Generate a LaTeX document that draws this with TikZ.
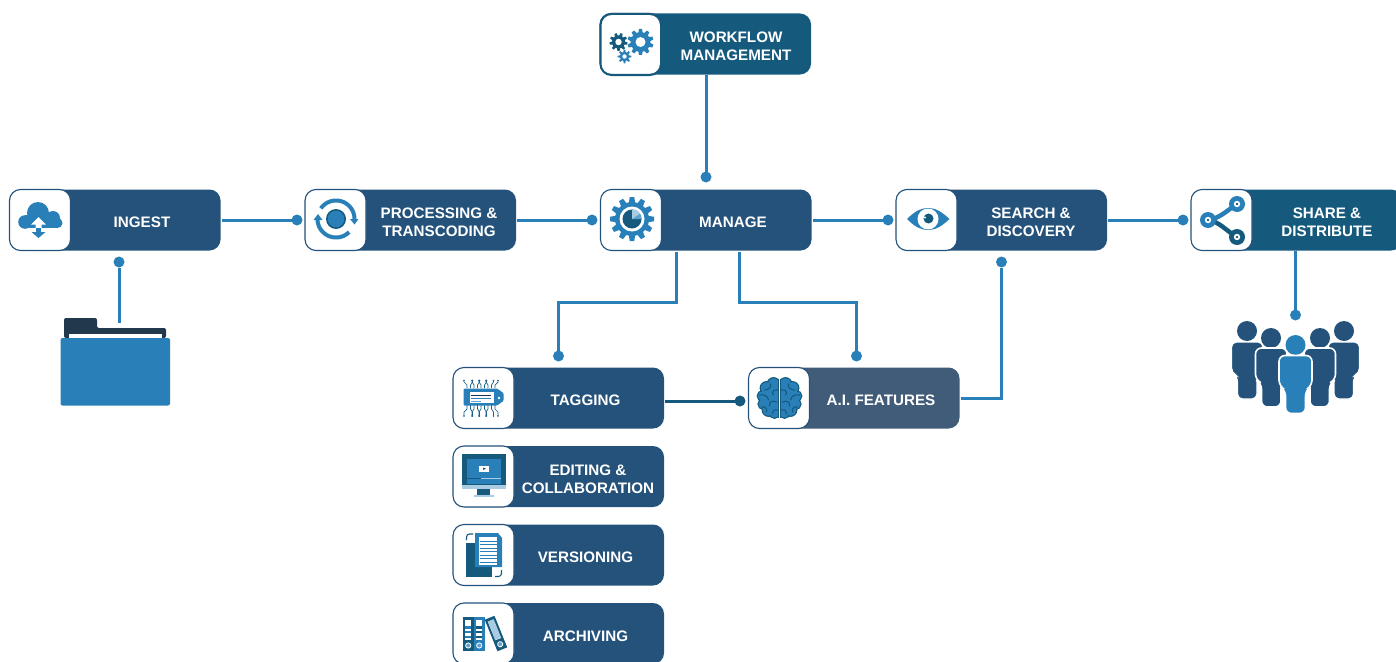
\documentclass[tikz,border=0pt]{standalone}
\usepackage{fontspec}
\setmainfont{Liberation Sans}
\definecolor{cardblue}{HTML}{24527A}
\definecolor{cardteal}{HTML}{155A7D}
\definecolor{cardslate}{HTML}{415C78}
\definecolor{linkblue}{HTML}{2980B9}
\definecolor{navy}{HTML}{22384D}
\definecolor{lightblue}{HTML}{A9CCE3}
\definecolor{midblue}{HTML}{5EA3D0}
\tikzset{
  cardbox/.style={rectangle,rounded corners=11pt,minimum width=211pt,minimum height=61pt,inner sep=0pt,outer sep=0pt},
  tilebox/.style={rectangle,rounded corners=11pt,fill=white,draw=cardblue,line width=1.1pt,minimum width=61pt,minimum height=61pt,inner sep=0pt,outer sep=0pt},
  cardtext/.style={text=white,align=center,inner sep=0pt,font=\fontsize{15.2}{18}\selectfont\bfseries},
  conn/.style={draw=linkblue,line width=3pt},
  conndark/.style={draw=cardteal,line width=3pt},
  dotend/.style={circle,fill=linkblue,minimum size=11pt,inner sep=0pt,outer sep=0pt},
  dotdark/.style={circle,fill=cardteal,minimum size=11pt,inner sep=0pt,outer sep=0pt},
}
% name, left, top, colour, text x, text
\newcommand{\card}[6]{%
  \node[cardbox,fill=#4] (#1) at ({#2+105.5},{#3+30.5}) {};
  \node[tilebox] (#1-tile) at ({#2+30.5},{#3+30.5}) {};
  \node[cardtext] (#1-text) at ({#5},{#3+33}) {#6};
}
% cx cy router rbody teeth toothhalfwidth colour hole
\newcommand{\gearicon}[8]{%
  \fill[#7] (#1,#2) circle[radius=#4];
  \foreach \gi in {1,...,#5}{
    \fill[#7,shift={(#1,#2)},rotate=\gi*360/#5] (-#6,#4-1) -- (-0.7*#6,#3) -- (0.7*#6,#3) -- (#6,#4-1) -- cycle;
  }
  \fill[white] (#1,#2) circle[radius=#8];
}
% binder: left, top, colour, label stripe colour
\newcommand{\binder}[4]{%
  \fill[#3] (#1,#2) rectangle ({#1+10.5},{#2+34});
  \fill[white] ({#1+2.2},{#2+3}) rectangle ({#1+8.3},{#2+23});
  \fill[#4] ({#1+2.2},{#2+9}) rectangle ({#1+8.3},{#2+11.5});
  \fill[#4] ({#1+2.2},{#2+13.5}) rectangle ({#1+8.3},{#2+15.5});
  \fill[#4] ({#1+2.2},{#2+18.5}) rectangle ({#1+8.3},{#2+21});
  \filldraw[fill=midblue,draw=white,line width=0.8pt] ({#1+5.2},{#2+28.5}) circle[radius=2.6];
}
\begin{document}
\begin{tikzpicture}[x=1pt,y=-1pt]
\clip (0,0) rectangle (1396,661);
\fill[white] (0,0) rectangle (1396,661);

% cards
\card{workflow}{600}{13.5}{cardteal}{736}{WORKFLOW\\MANAGEMENT}
\card{ingest}{9.5}{189.5}{cardblue}{142}{INGEST}
\card{processing}{305}{189.5}{cardblue}{439}{PROCESSING \&\\TRANSCODING}
\card{manage}{600.5}{189.5}{cardblue}{733}{MANAGE}
\card{search}{896}{189.5}{cardblue}{1031}{SEARCH \&\\DISCOVERY}
\card{share}{1191}{189.5}{cardteal}{1327}{SHARE \&\\DISTRIBUTE}
\card{tagging}{453}{367.5}{cardblue}{585.5}{TAGGING}
\card{editing}{453}{446}{cardblue}{588}{EDITING \&\\COLLABORATION}
\card{versioning}{453}{524.5}{cardblue}{585.5}{VERSIONING}
\card{archiving}{453}{603}{cardblue}{585.5}{ARCHIVING}
\card{ai}{748.5}{367.5}{cardslate}{881}{A.I. FEATURES}
\draw[cardteal,line width=2pt,rounded corners=11pt] (600.5,14) rectangle (661,75);

% connector ends
\node[dotend] (dwork) at (706,177) {};
\node[dotend] (dfolder) at (119,262) {};
\coordinate (folderend) at (119,323);
\node[dotend] (dproc) at (297,220) {};
\node[dotend] (dmanage) at (592,220) {};
\node[dotend] (dsearch) at (888,220) {};
\node[dotend] (dshare) at (1183,220) {};
\node[dotend] (dpeople) at (1295.5,315) {};
\node[dotend] (dtag) at (558.5,356) {};
\node[dotend] (dai) at (856.5,356) {};
\node[dotdark] (daileft) at (740,401) {};
\node[dotend] (dsearchb) at (1001.5,262) {};

% connectors
\draw[conn] (workflow.south -| dwork) -- (dwork);
\draw[conn] (dfolder) -- (folderend);
\draw[conn] ([xshift=1pt]ingest.east) -- (dproc);
\draw[conn] ([xshift=1pt]processing.east) -- (dmanage);
\draw[conn] ([xshift=1pt]manage.east) -- (dsearch);
\draw[conn] ([xshift=1pt]search.east) -- (dshare);
\draw[conn] (share.south -| dpeople) -- (dpeople);
\draw[conn] ([xshift=-30pt,yshift=-1pt]manage.south) -- ++(0,51) -| (dtag);
\draw[conn] ([xshift=33pt,yshift=-1pt]manage.south) -- ++(0,51) -| (dai);
\draw[conndark] ([xshift=1pt]tagging.east |- daileft) -- (daileft);
\draw[conn] ([xshift=1pt]ai.east) -| (dsearchb);

% folder
\fill[navy,rounded corners=2pt] (64,338) -- (64,318) -- (97,318) -- (97,328) -- (166,328) -- (166,338) -- cycle;
\fill[white] (69,333.5) rectangle (162,339);
\fill[linkblue,rounded corners=2pt] (60.5,338) rectangle (170,405.5);

% people
\fill[cardblue] (1247,331) circle[radius=10];
\fill[cardblue] (1344,331) circle[radius=10];
\filldraw[fill=cardblue,draw=white,line width=1.2pt,rounded corners=5pt]
  (1231.5,342) -- (1231.5,373) -- (1237.5,376) -- (1237.5,399) -- (1257,399) -- (1257,376) -- (1263,373) -- (1263,342) -- cycle;
\filldraw[fill=cardblue,draw=white,line width=1.2pt,rounded corners=5pt]
  (1328,342) -- (1328,373) -- (1334,376) -- (1334,399) -- (1353.5,399) -- (1353.5,376) -- (1359.5,373) -- (1359.5,342) -- cycle;
\fill[white] (1271,338) circle[radius=11.5];
\fill[white] (1320,338) circle[radius=11.5];
\fill[cardblue] (1271,338) circle[radius=10];
\fill[cardblue] (1320,338) circle[radius=10];
\filldraw[fill=cardblue,draw=white,line width=1.6pt,rounded corners=6pt]
  (1255.5,348) -- (1255.5,380) -- (1261.5,383) -- (1261.5,407) -- (1281,407) -- (1281,383) -- (1287,380) -- (1287,348) -- cycle;
\filldraw[fill=cardblue,draw=white,line width=1.6pt,rounded corners=6pt]
  (1304,348) -- (1304,380) -- (1310,383) -- (1310,407) -- (1329.5,407) -- (1329.5,383) -- (1335.5,380) -- (1335.5,348) -- cycle;
\fill[white] (1295.5,345) circle[radius=11.5];
\fill[linkblue] (1295.5,345) circle[radius=10];
\filldraw[fill=linkblue,draw=white,line width=1.6pt,rounded corners=6pt]
  (1279,355.5) -- (1279,386) -- (1285.5,390) -- (1285.5,413.5) -- (1305.5,413.5) -- (1305.5,390) -- (1312,386) -- (1312,355.5) -- cycle;

% icon: workflow gears
\gearicon{640.5}{42}{13}{10}{10}{2.2}{linkblue}{5}
\gearicon{618.5}{42}{9}{6.6}{9}{1.6}{cardteal}{3.2}
\gearicon{624.5}{56.5}{6.8}{4.8}{8}{1.2}{linkblue}{2.2}

% icon: cloud
\fill[linkblue] (38,213) circle[radius=11];
\fill[linkblue] (25,222) circle[radius=6.8];
\fill[linkblue] (53,218) circle[radius=7];
\fill[linkblue] (57.5,223) circle[radius=5];
\fill[linkblue] (25,215.2) rectangle (57.5,228);
\fill[white] (31,224.5) -- (38.5,217) -- (46,224.5) -- (41.5,224.5) -- (41.5,232) -- (35.5,232) -- (35.5,224.5) -- cycle;
\fill[linkblue] (36.3,228) rectangle (40.7,233);
\fill[linkblue] (31.5,232) -- (45.5,232) -- (38.5,238) -- cycle;

% icon: processing
\fill[cardteal] (336,219) circle[radius=10];
\fill[linkblue] (336,219) circle[radius=8.3];
\draw[linkblue,line width=4pt] plot[domain=215:360,samples=30] ({336+18.5*cos(\x)},{219+18.5*sin(\x)});
\draw[linkblue,line width=4pt] plot[domain=45:180,samples=30] ({336+18.5*cos(\x)},{219+18.5*sin(\x)});
\fill[linkblue] (350,219) -- (358.5,219) -- (354.5,224.5) -- cycle;
\fill[linkblue] (313.5,220) -- (322.5,220) -- (318,214) -- cycle;

% icon: manage gear
\gearicon{632}{219}{22}{17}{12}{3.2}{linkblue}{12.5}
\fill[cardteal] (632,219) circle[radius=9.5];
\fill[midblue] (632,219) -- plot[domain=-90:0,samples=16] ({632+9.5*cos(\x)},{219+9.5*sin(\x)}) -- cycle;
\fill[lightblue] (632,219) -- plot[domain=-90:-35,samples=10] ({632+9.5*cos(\x)},{219+9.5*sin(\x)}) -- cycle;

% icon: eye
\fill[linkblue] (907,219) .. controls (915,211) and (921,208) .. (928,208) .. controls (935,208) and (941,211) .. (949.5,219) .. controls (941,227) and (935,230) .. (928,230) .. controls (921,230) and (915,227) .. (907,219) -- cycle;
\fill[white] (928,219) circle[radius=10.5];
\fill[cardteal] (928.5,218.5) circle[radius=5];
\fill[white] (925,217.5) circle[radius=1.1];

% icon: share
\draw[linkblue,line width=4.5pt] (1208,220) .. controls (1220,218) and (1225,212) .. (1237,204);
\draw[cardteal,line width=4.5pt] (1208,220) .. controls (1220,222) and (1225,230) .. (1237,237);
\fill[linkblue] (1208,220) circle[radius=8];
\fill[linkblue] (1237,204) circle[radius=8];
\fill[cardteal] (1237,237) circle[radius=8];
\foreach \sx/\sy/\sc in {1208/220/cardteal,1237/204/cardteal,1237/237/cardteal}{
  \fill[white] (\sx,\sy) circle[radius=3.2];
  \fill[\sc] (\sx,\sy) circle[radius=1.3];
}

% icon: tagging
\foreach \tx/\ta in {467/-1.5,470.5/1,474/-1,477.5/1,481/-1,484.5/1,488/-1,491.5/1,495/1.5}{
  \draw[cardteal!80!linkblue,line width=0.7pt] (\tx,388) -- (\tx,385) -- ({\tx+\ta*2},382) -- ({\tx+\ta*2},380.5);
  \draw[cardteal!80!linkblue,line width=0.7pt] (\tx,405) -- (\tx,409) -- ({\tx+\ta*2},412) -- ({\tx+\ta*2},416);
  \fill[cardteal!80!linkblue] ({\tx+\ta*2},380.5) circle[radius=0.8];
  \fill[cardteal!80!linkblue] ({\tx+\ta*2},416) circle[radius=0.8];
}
\fill[linkblue,rounded corners=1pt] (463.5,388.5) -- (497,388.5) -- (503.5,393) -- (503.5,401) -- (497,405.5) -- (463.5,405.5) -- cycle;
\fill[white] (470,392) rectangle (494,403);
\fill[navy] (471,394.5) rectangle (491,396);
\fill[linkblue] (471,397.5) rectangle (491,399);
\fill[midblue] (471,400.5) rectangle (481,402);
\fill[white] (499,398) circle[radius=1.3];

% icon: editing
\fill[cardteal] (462,454) rectangle (506,485);
\fill[linkblue] (467,459) rectangle (501,484);
\fill[lightblue] (462,485) rectangle (506,489);
\fill[cardteal] (477,489) rectangle (490,495);
\fill[lightblue] (474,495) rectangle (494,497);
\fill[white] (479,466) rectangle (489,471.5);
\fill[cardteal] (483,467.5) -- (486,468.7) -- (483,470) -- cycle;
\fill[lightblue] (481,477.5) rectangle (501,479);
\fill[cardteal] (467,477.5) rectangle (481,479);

% icon: versioning
\fill[cardteal] (466,543) rectangle (492,577);
\fill[linkblue] (475,533) -- (498,533) -- (502,538) -- (502,567) -- (475,567) -- cycle;
\fill[white] (479,537) rectangle (497,565);
\foreach \vy in {540.5,544,547.5,551,554.5,558,561.5}{
  \fill[linkblue] (480,\vy) rectangle (496.5,{\vy+1.0});
}
\draw[cardteal,line width=1.1pt,rounded corners=3pt] (473,534) -- (466.5,534) -- (466.5,540);
\draw[cardteal,line width=1.1pt,rounded corners=3pt] (495,576.5) -- (501.5,576.5) -- (501.5,570);

% icon: archiving
\binder{463}{617}{cardteal}{linkblue}
\binder{474}{617}{linkblue}{cardteal}
\begin{scope}[rotate around={22:(496,633.5)}]
\binder{490.7}{616.5}{cardteal}{midblue}
\fill[lightblue] (492.9,619.5) rectangle (499,639.5);
\end{scope}

% icon: brain
\foreach \bs in {-1,1}{
\begin{scope}[shift={(779.5,398)},xscale=\bs]
  \begin{scope}
  \clip (1,-25) rectangle (25,25);
  \foreach \bx/\by/\br in {6/-14/6.3,13/-10/6.3,17/-2/5.3,16/6/5.5,11/12/6.3,5/15/5.3}{
    \filldraw[fill=linkblue,draw=cardteal,line width=1.2pt] (\bx,\by) circle[radius=\br];
  }
  \foreach \bx/\by/\br in {6/-14/5.6,13/-10/5.6,17/-2/4.6,16/6/4.8,11/12/5.6,5/15/4.6}{
    \fill[linkblue] (\bx,\by) circle[radius=\br];
  }
  \fill[linkblue] (1,-12) rectangle (15,14);
  \end{scope}
  \draw[cardteal,line width=1.2pt] (1.2,-19.5) -- (1.2,19.5);
  \draw[cardteal,line width=1.1pt,line cap=round] (2,-8) .. controls (7,-9) and (8,-5) .. (6,-3);
  \draw[cardteal,line width=1.1pt,line cap=round] (9,-14) .. controls (8,-10) and (12,-8) .. (15,-8);
  \draw[cardteal,line width=1.1pt,line cap=round] (20,-3) .. controls (15,-4) and (12,-2) .. (11,2);
  \draw[cardteal,line width=1.1pt,line cap=round] (3,4) .. controls (7,2) and (11,4) .. (10,8);
  \draw[cardteal,line width=1.1pt,line cap=round] (18,9) .. controls (14,8) and (12,11) .. (13,14);
  \draw[cardteal,line width=1.1pt,line cap=round] (2,12) .. controls (5,11) and (7,13) .. (7,16);
\end{scope}
}
\end{tikzpicture}
\end{document}
